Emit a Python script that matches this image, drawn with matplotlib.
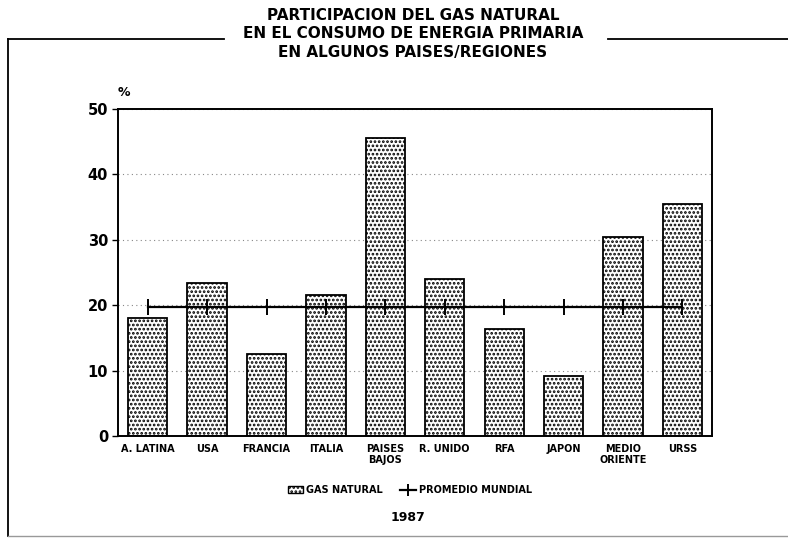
import matplotlib
matplotlib.use("Agg")
import matplotlib.pyplot as plt
from matplotlib.lines import Line2D
from matplotlib.patches import Patch

plt.rcParams['font.family'] = ['DejaVu Sans']
plt.rcParams['hatch.linewidth'] = 1.3

categories = ["A. LATINA", "USA", "FRANCIA", "ITALIA", "PAISES\nBAJOS", "R. UNIDO",
              "RFA", "JAPON", "MEDIO\nORIENTE", "URSS"]
gas_natural = [18.0, 23.4, 12.5, 21.6, 45.6, 24.0, 16.4, 9.2, 30.4, 35.5]
promedio_mundial = [19.8] * 10
yticks = [0, 10, 20, 30, 40, 50]

fig = plt.figure(figsize=(7.88, 5.41), dpi=100)
ax = fig.add_axes([0.1497, 0.194, 0.754, 0.6044])

x = list(range(len(categories)))
ax.bar(x, gas_natural, width=0.66, facecolor='white', edgecolor='black',
       hatch='....', linewidth=1.3, zorder=2)
ax.plot(x, promedio_mundial, color='black', linewidth=1.6, marker='|',
        markersize=11, markeredgewidth=1.4, zorder=3)

ax.set_xlim(-0.5, 9.5)
ax.set_ylim(0, 50)
ax.set_yticks(yticks)
ax.set_yticklabels([str(v) for v in yticks], fontsize=10.5, fontweight='bold')
ax.set_xticks(x)
ax.set_xticklabels(categories, fontsize=7, fontweight='bold', linespacing=1.1)
ax.tick_params(axis='x', length=0, pad=6)
ax.tick_params(axis='y', length=4, width=1, direction='out', pad=3)
ax.grid(axis='y', linestyle=(0, (1, 3)), color='#888888', linewidth=0.8, zorder=0)
for s in ax.spines.values():
    s.set_linewidth(1.4)

ax.text(0.0, 1.05, '%', transform=ax.transAxes, fontsize=9,
        fontweight='bold', ha='left', va='center')

# Title
fig.text(0.524, 0.986, "PARTICIPACION DEL GAS NATURAL\nEN EL CONSUMO DE ENERGIA PRIMARIA\nEN ALGUNOS PAISES/REGIONES",
         ha='center', va='top', fontsize=11, fontweight='bold', linespacing=1.3)

# Outer frame lines
fig.add_artist(Line2D([0.01, 0.284], [0.927, 0.927], color='black', lw=1.3, transform=fig.transFigure))
fig.add_artist(Line2D([0.772, 1.0], [0.927, 0.927], color='black', lw=1.3, transform=fig.transFigure))
fig.add_artist(Line2D([0.01, 0.01], [0.927, 0.01], color='black', lw=1.3, transform=fig.transFigure))
fig.add_artist(Line2D([0.01, 1.0], [0.01, 0.01], color='#999999', lw=1.0, transform=fig.transFigure))

# Legend
handles = [Patch(facecolor='white', edgecolor='black', hatch='....', linewidth=1.0),
           Line2D([0], [0], color='black', lw=1.6, marker='|', markersize=9, markeredgewidth=1.4)]
leg = fig.legend(handles, ["GAS NATURAL", "PROMEDIO MUNDIAL"], loc='center',
                 bbox_to_anchor=(0.52, 0.094), ncol=2, frameon=False,
                 prop={'size': 7, 'weight': 'bold'}, handlelength=1.6,
                 handletextpad=0.3, columnspacing=1.8)

fig.text(0.518, 0.043, "1987", ha='center', va='center', fontsize=9, fontweight='bold')

fig.savefig("out.png", dpi=100)
